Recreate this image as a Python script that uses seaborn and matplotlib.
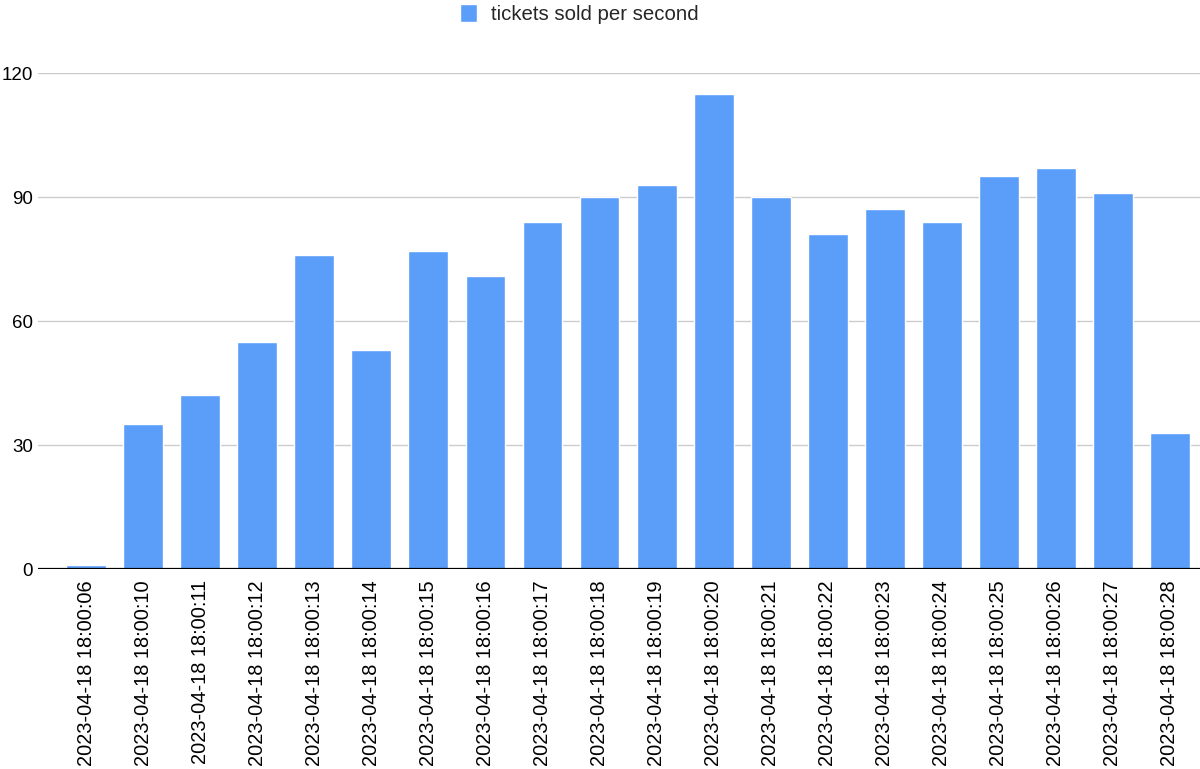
import pandas as pd
import matplotlib.pyplot as plt
import seaborn as sns

# ==========================================
# DATA
# ==========================================
timestamps = [
    "2023-04-18 18:00:06", "2023-04-18 18:00:10", "2023-04-18 18:00:11",
    "2023-04-18 18:00:12", "2023-04-18 18:00:13", "2023-04-18 18:00:14",
    "2023-04-18 18:00:15", "2023-04-18 18:00:16", "2023-04-18 18:00:17",
    "2023-04-18 18:00:18", "2023-04-18 18:00:19", "2023-04-18 18:00:20",
    "2023-04-18 18:00:21", "2023-04-18 18:00:22", "2023-04-18 18:00:23",
    "2023-04-18 18:00:24", "2023-04-18 18:00:25", "2023-04-18 18:00:26",
    "2023-04-18 18:00:27", "2023-04-18 18:00:28",
]
tickets = [1, 35, 42, 55, 76, 53, 77, 71, 84, 90,
           93, 115, 90, 81, 87, 84, 95, 97, 91, 33]
y_ticks = [0, 30, 60, 90, 120]

SERIES = "tickets sold per second"
BAR_COLOR = "#5b9ef9"

# ==========================================
# STYLE
# ==========================================
sns.set_theme(style="white")
plt.rcParams['font.family'] = ['Liberation Sans', 'DejaVu Sans']

df = pd.DataFrame({"time": timestamps, "tickets": tickets})

fig = plt.figure(figsize=(12, 7.69), dpi=100)
ax = fig.add_axes([0.032, 0.26, 0.968, 0.645])

sns.barplot(data=df, x="time", y="tickets", color=BAR_COLOR,
            width=0.7, saturation=1, label=SERIES, ax=ax)

ax.set_ylim(0, 120)
ax.set_xlim(-0.84, len(timestamps) - 0.47)
ax.set_yticks(y_ticks)
ax.yaxis.grid(True, color="#cccccc", linewidth=1)
ax.set_axisbelow(True)
ax.axhline(0, color="black", linewidth=1.6, zorder=5)

for side in ["top", "right", "left", "bottom"]:
    ax.spines[side].set_visible(False)

ax.tick_params(axis="y", labelsize=13.5, length=0, pad=4, labelcolor="black")
ax.tick_params(axis="x", labelsize=14.4, length=0, pad=8, labelcolor="black")
plt.setp(ax.get_xticklabels(), rotation=90, va="top", ha="center")
ax.set_xlabel("")
ax.set_ylabel("")

ax.legend(loc="center", bbox_to_anchor=(0.483, 0.982),
          bbox_transform=fig.transFigure, frameon=False,
          fontsize=14.7, handlelength=0.8, handleheight=1.0,
          handletextpad=0.7)

fig.savefig("out.png", dpi=100)
plt.close(fig)
